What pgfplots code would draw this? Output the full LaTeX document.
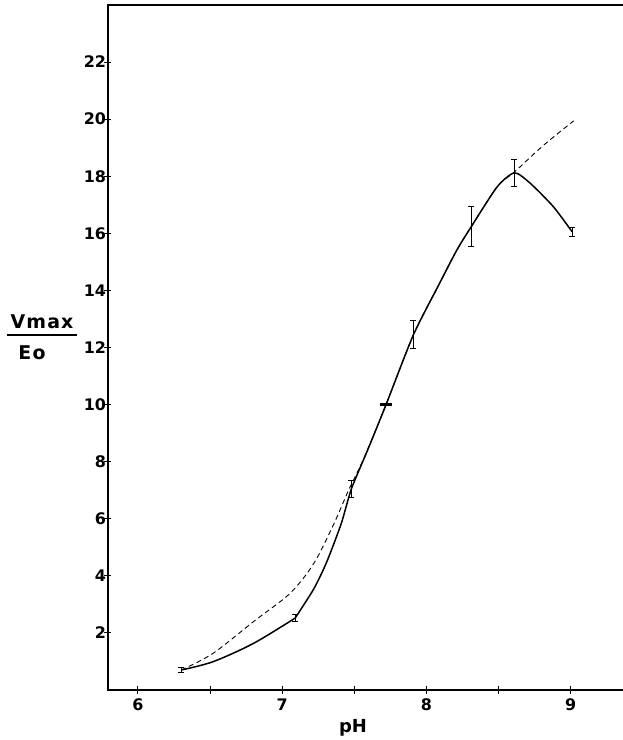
\documentclass[border=0pt]{standalone}
\usepackage{pgfplots}
\pgfplotsset{compat=1.18}
\usepackage{fontspec}
\setmainfont{DejaVu Sans}
\newfontfamily\spacedfont[LetterSpace=6]{DejaVu Sans}
\begin{document}
\begin{tikzpicture}
\begin{axis}[
 at={(0,0)}, anchor=south west,
 scale only axis, width=515bp, height=685bp,
 xmin=5.793, xmax=9.362, ymin=0, ymax=24,
 axis line style={draw=none},
 xtick={6,6.5,...,9}, xticklabels={6,,7,,8,,9},
 ytick={2,4,...,22},
 tick align=center, major tick length=7bp,
 xtick pos=left, ytick pos=left,
 tick style={black, line width=1bp},
 /pgf/number format/assume math mode=true,
 ticklabel style={font=\bfseries\fontsize{16}{16}\selectfont},
 yticklabel style={xshift=5bp},
 xticklabel style={yshift=-2bp},
 clip=false,
]
\draw[line width=1.4bp] (rel axis cs:1,1) -- (rel axis cs:0,1) -- (rel axis cs:0,0) -- (rel axis cs:1,0);
% dashed curve
\addplot[black, line width=0.9bp, dash pattern=on 5bp off 3.5bp, smooth, tension=0.5] coordinates {
(6.30,0.70) (6.52,1.28) (6.80,2.39) (7.055,3.39) (7.22,4.44) (7.36,5.84) (7.46,7.0) (7.56,8.05) (7.72,10.0) (7.91,12.45) (8.09,14.24) (8.21,15.41) (8.31,16.23) (8.49,17.63) (8.61,18.15) (8.81,19.08) (9.02,19.94)};
% solid curve
\addplot[black, line width=1.5bp, smooth, tension=0.5] coordinates {
(6.30,0.70) (6.52,0.99) (6.80,1.63) (7.09,2.52)};
\addplot[black, line width=1.5bp, smooth, tension=0.4] coordinates {
(7.09,2.52) (7.22,3.55) (7.31,4.50) (7.41,5.84) (7.48,7.05) (7.60,8.5) (7.72,10.0) (7.91,12.45) (8.09,14.24) (8.21,15.41) (8.31,16.23) (8.49,17.63) (8.61,18.12) (8.72,17.75) (8.88,16.93) (9.01,16.05)};
% error bars
\addplot[draw=none, mark=none, error bars/.cd, y dir=both, y explicit,
  error bar style={line width=1bp, black},
  error mark options={rotate=90, mark size=3bp, line width=1bp, black}]
 table[x=x, y=y, y error=e] {
x y e
6.30 0.70 0.10
7.09 2.52 0.12
7.48 7.05 0.30
7.91 12.45 0.50
8.31 16.25 0.70
8.61 18.10 0.47
9.01 16.05 0.15
};
\addplot[draw=none, mark=-, mark size=6bp, mark options={line width=2.5bp, black}] coordinates {(7.72,10.0)};
\end{axis}
\node[font=\spacedfont\bfseries\fontsize{19}{19}\selectfont] at (-66bp,368bp) {Vmax};
\draw[line width=2bp] (-101bp,355bp) -- (-31bp,355bp);
\node[font=\spacedfont\bfseries\fontsize{19}{19}\selectfont] at (-76bp,337bp) {Eo};
\node[font=\bfseries\fontsize{18}{18}\selectfont] at (245bp,-38bp) {pH};
\pgfresetboundingbox
\path (-108bp,-50bp) rectangle (515bp,690bp);
\end{tikzpicture}
\end{document}
